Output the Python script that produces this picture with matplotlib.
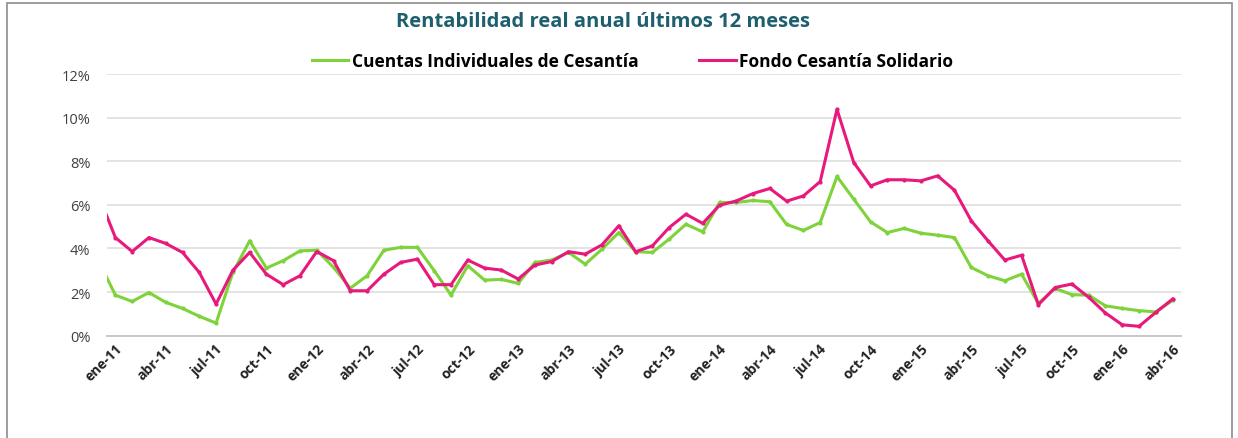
import matplotlib
matplotlib.use("Agg")
import matplotlib.pyplot as plt
from matplotlib.lines import Line2D
from matplotlib.patches import Rectangle
from matplotlib.ticker import FuncFormatter

# months: dic-10 (clipped at the left edge) then ene-11 .. abr-16
meses = ["dic-10"] + [f"{m}-{a}" for a in range(11, 17)
                      for m in ["ene", "feb", "mar", "abr", "may", "jun",
                                "jul", "ago", "sep", "oct", "nov", "dic"]]
meses = meses[:65]

cuentas_individuales = [
    3.43,
    1.86, 1.57, 1.98, 1.53, 1.25, 0.89, 0.58, 2.90, 4.35, 3.10, 3.44, 3.89,
    3.92, 3.13, 2.18, 2.75, 3.92, 4.05, 4.05, 2.98, 1.86, 3.21, 2.55, 2.58,
    2.40, 3.36, 3.47, 3.82, 3.28, 3.97, 4.73, 3.85, 3.82, 4.43, 5.11, 4.76,
    6.11, 6.11, 6.20, 6.14, 5.10, 4.83, 5.19, 7.30, 6.26, 5.22, 4.73, 4.92,
    4.70, 4.61, 4.50, 3.13, 2.75, 2.52, 2.82, 1.48, 2.17, 1.88, 1.86, 1.37,
    1.25, 1.15, 1.09, 1.62,
]
fondo_solidario = [
    6.43,
    4.50, 3.86, 4.50, 4.23, 3.82, 2.90, 1.45, 3.00, 3.82, 2.82, 2.34, 2.75,
    3.86, 3.44, 2.06, 2.06, 2.82, 3.36, 3.51, 2.34, 2.34, 3.47, 3.10, 3.01,
    2.60, 3.24, 3.40, 3.85, 3.74, 4.17, 5.04, 3.85, 4.12, 4.96, 5.57, 5.15,
    5.98, 6.18, 6.52, 6.75, 6.17, 6.41, 7.07, 10.38, 7.94, 6.87, 7.15, 7.15,
    7.10, 7.33, 6.67, 5.27, 4.35, 3.47, 3.69, 1.42, 2.21, 2.37, 1.76, 1.04,
    0.50, 0.43, 1.07, 1.68,
]

x = list(range(-1, len(meses) - 1))
tick_pos = list(range(0, 64, 3))
tick_labels = [meses[i + 1] for i in tick_pos]

verde = "#7ED23A"
rosa = "#E8197C"
fuente = "Open Sans"

fig = plt.figure(figsize=(12.38, 4.39), dpi=100)
fig.patches.append(Rectangle((7 / 1238, -0.01), 1225 / 1238, 1.0,
                             transform=fig.transFigure, fill=False,
                             edgecolor="#8C8C8C", linewidth=1.2))

ax = fig.add_axes([107 / 1238, 1 - 336.7 / 439, 1074 / 1238, 261.7 / 439])
ax.plot(x, cuentas_individuales, color=verde, lw=2.2, marker="o", ms=2,
        solid_joinstyle="round")
ax.plot(x, fondo_solidario, color=rosa, lw=2.2, marker="o", ms=2,
        solid_joinstyle="round")

ax.set_xlim(-0.5, 63.5)
ax.set_ylim(0, 12)
ax.set_yticks(range(0, 13, 2))
ax.yaxis.set_major_formatter(FuncFormatter(lambda v, p: f"{v:.0f}%"))
ax.set_xticks(tick_pos)
ax.set_xticklabels(tick_labels, rotation=45, ha="right", va="top",
                   rotation_mode="anchor", fontsize=10, fontweight="bold",
                   family=fuente, color="#222222")
for lab in ax.get_yticklabels():
    lab.set_family(fuente)
    lab.set_fontsize(10.5)
    lab.set_color("#404040")

ax.grid(axis="y", color="#E3E3E3", lw=1.4)
ax.set_axisbelow(True)
for s in ["left", "right", "top"]:
    ax.spines[s].set_visible(False)
ax.spines["bottom"].set_color("#C8C8C8")
ax.spines["bottom"].set_linewidth(1.4)
ax.tick_params(axis="y", length=0, pad=12)
ax.tick_params(axis="x", length=0, pad=4)

fig.text(603 / 1238, 1 - 22 / 439, "Rentabilidad real anual últimos 12 meses",
         ha="center", va="center", fontsize=14.5, fontweight="bold",
         color="#1D5F6E", family=fuente)

handles = [Line2D([], [], color=verde, lw=2.2),
           Line2D([], [], color=rosa, lw=2.2)]
ax.legend(handles, ["Cuentas Individuales de Cesantía",
                    "Fondo Cesantía Solidario"],
          loc="center", bbox_to_anchor=((632.5 - 107) / 1074,
                                        (336.7 - 62) / 261.7),
          ncol=2, frameon=False, handlelength=2.1, handletextpad=0.2,
          columnspacing=3.5, borderpad=0,
          prop={"family": fuente, "weight": "bold", "size": 12.5})

fig.savefig("out.png", dpi=100)
